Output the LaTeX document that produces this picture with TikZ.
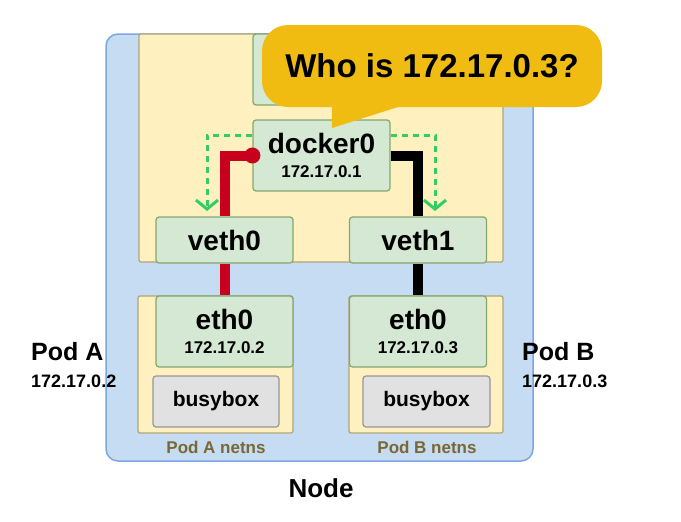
\documentclass[tikz,border=0pt]{standalone}
\usepackage{fontspec}
\setmainfont{Liberation Sans}
\usetikzlibrary{arrows.meta,positioning,calc}
\definecolor{nodefill}{RGB}{198,220,242}
\definecolor{nodeline}{RGB}{126,166,224}
\definecolor{nsfill}{RGB}{255,240,192}
\definecolor{nsline}{RGB}{176,164,120}
\definecolor{iffill}{RGB}{213,232,212}
\definecolor{ifline}{RGB}{130,168,110}
\definecolor{ctrfill}{RGB}{225,225,225}
\definecolor{ctrline}{RGB}{150,150,150}
\definecolor{bubblefill}{RGB}{240,188,18}
\definecolor{vethred}{RGB}{200,0,30}
\definecolor{arpgreen}{RGB}{51,204,102}
\definecolor{nstext}{RGB}{122,104,52}
\newcommand{\ipsize}{\fontsize{17}{20}\selectfont}
\tikzset{
  % Host and namespaces
  nodebox/.style  = {draw=nodeline, fill=nodefill, line width=1.5pt,
                     rounded corners=12pt, minimum width=427pt, minimum height=427pt},
  nsbox/.style    = {draw=nsline, fill=nsfill, line width=1.2pt, rounded corners=2pt},
  % Interfaces and containers
  ifbox/.style    = {draw=ifline, fill=iffill, line width=1.2pt, rounded corners=3pt,
                     minimum width=137pt, inner sep=0pt, align=center,
                     font=\fontsize{28}{25}\selectfont\bfseries},
  ctrbox/.style   = {draw=ctrline, fill=ctrfill, line width=1.2pt, rounded corners=3pt,
                     minimum height=51pt, inner sep=0pt,
                     font=\fontsize{21}{24}\selectfont\bfseries},
  % Links
  redlink/.style  = {draw=vethred, line width=10pt},
  blacklink/.style= {draw=black, line width=10pt},
  arpline/.style  = {draw=arpgreen, line width=3pt, dash pattern=on 6pt off 5pt,
                     -{Straight Barb[length=9pt,width=22pt]}},
  % Callout
  bubblebox/.style= {fill=bubblefill, rounded corners=26pt, minimum width=340pt,
                     minimum height=82pt, inner sep=0pt,
                     font=\fontsize{33}{35}\selectfont\bfseries},
  % Labels
  podlbl/.style   = {inner sep=0pt, font=\fontsize{25}{28}\selectfont\bfseries},
  iplbl/.style    = {inner sep=0pt, font=\fontsize{18}{20}\selectfont\bfseries},
  nslbl/.style    = {inner sep=0pt, text=nstext, font=\fontsize{17}{20}\selectfont\bfseries},
  nodelbl/.style  = {inner sep=0pt, font=\fontsize{26}{28}\selectfont\bfseries},
}
\begin{document}
\begin{tikzpicture}[x=1pt,y=-1pt]
  \useasboundingbox (0,0) rectangle (681,522);
  % Node
  \node[nodebox] (node) at (319.5,247.5) {};
  % Network namespaces
  \node[nsbox, minimum width=364pt, minimum height=228pt] (hostns) at (321,148) {};
  \node[nsbox, minimum width=155pt, minimum height=137pt] (podAns) at (215.5,364.5) {};
  \node[nsbox, minimum width=154pt, minimum height=137pt] (podBns) at (426,364.5) {};
  % Interfaces
  \node[ifbox, minimum height=71pt] (hidden) at (321.5,69.5) {};
  \node[ifbox, minimum height=71pt] (docker) at (321.5,155.5) {docker0\\[-1pt]{\ipsize 172.17.0.1}};
  \node[ifbox, minimum height=46pt] (vethA) at (224.5,240) {veth0};
  \node[ifbox, minimum height=46pt] (vethB) at (418,240) {veth1};
  \node[ifbox, minimum height=71pt] (ethA) at (224.5,331.5) {eth0\\[-1pt]{\ipsize 172.17.0.2}};
  \node[ifbox, minimum height=71pt] (ethB) at (418,331.5) {eth0\\[-1pt]{\ipsize 172.17.0.3}};
  % Containers
  \node[ctrbox, minimum width=126pt] (busyA) at (216,401.5) {busybox};
  \node[ctrbox, minimum width=127pt] (busyB) at (426.5,401.5) {busybox};
  % veth pairs
  \draw[redlink] (docker.west) -| (vethA.north);
  \draw[redlink] (vethA.south) -- (ethA.north);
  \fill[vethred] (docker.west) circle (8pt);
  \draw[blacklink] (docker.east) -| (vethB.north);
  \draw[blacklink] (vethB.south) -- (ethB.north);
  % ARP broadcast
  \coordinate (arpA) at (207,211);
  \coordinate (arpB) at (435,211);
  \draw[arpline] ([yshift=20pt]docker.west) -| (arpA);
  \draw[arpline] ([yshift=20pt]docker.east) -| (arpB);
  % Callout
  \node[bubblebox] (bubble) at (432,66) {Who is 172.17.0.3?};
  \coordinate (tip) at (332,128);
  \fill[bubblefill] ([xshift=70pt,yshift=3pt]bubble.south west)
    -- ([xshift=145pt,yshift=3pt]bubble.south west) -- (tip) -- cycle;
  % Labels
  \node[podlbl, anchor=base west] (podA) at (31,360) {Pod A};
  \node[iplbl, anchor=base west] (podAip) at (31,387) {172.17.0.2};
  \node[podlbl, anchor=base west] (podB) at (522,360) {Pod B};
  \node[iplbl, anchor=base west] (podBip) at (522,387) {172.17.0.3};
  \node[nslbl, anchor=base] (podAnslbl) at (216,453) {Pod A netns};
  \node[nslbl, anchor=base] (podBnslbl) at (427,453) {Pod B netns};
  \node[nodelbl, anchor=base] (nodelbl) at (321,497) {Node};
\end{tikzpicture}
\end{document}
